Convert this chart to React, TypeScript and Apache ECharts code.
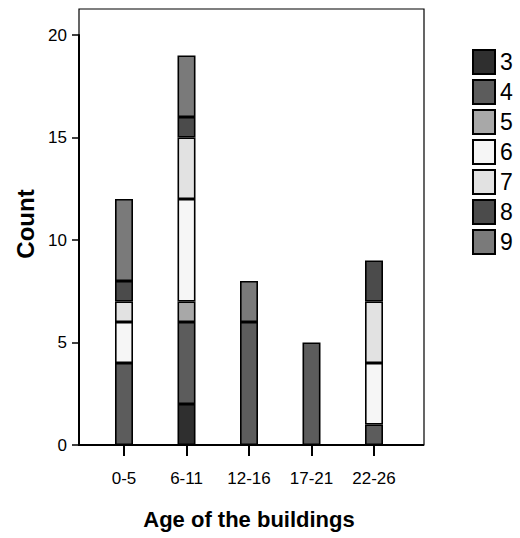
import React, { useEffect, useRef } from "react";
import * as echarts from "echarts";

const categories = ["0-5", "6-11", "12-16", "17-21", "22-26"];
const seriesNames = ["3", "4", "5", "6", "7", "8", "9"];
const s3 = [0, 2, 0, 0, 0];
const s4 = [4, 4, 6, 5, 1];
const s5 = [0, 1, 0, 0, 0];
const s6 = [2, 5, 0, 0, 3];
const s7 = [1, 3, 0, 0, 3];
const s8 = [1, 1, 0, 0, 2];
const s9 = [4, 3, 2, 0, 0];
const seriesValues = [s3, s4, s5, s6, s7, s8, s9];
const colors = ["#2f2f2f", "#5c5c5c", "#a8a8a8", "#f6f6f6", "#e2e2e2", "#4b4b4b", "#7a7a7a"];
const yTicks = [0, 5, 10, 15, 20];

const FONT = "'Liberation Sans', Arial, sans-serif";
const NARROW = "'Liberation Sans Narrow', 'Liberation Sans', Arial, sans-serif";

export default function App() {
  const ref = useRef<HTMLDivElement>(null);
  useEffect(() => {
    if (!ref.current) return;
    const chart = echarts.init(ref.current, null, { renderer: "svg" });
    const option: any = {
      animation: false,
      backgroundColor: "#fff",
      grid: { left: 92.75, right: 114.75, top: 35, bottom: 93, containLabel: false },
      legend: {
        orient: "vertical",
        left: 472,
        top: 49,
        icon: "rect",
        itemWidth: 22,
        itemHeight: 24,
        itemGap: 4,
        padding: 0,
        data: seriesNames,
        textStyle: { fontFamily: NARROW, fontSize: 23, lineHeight: 24, color: "#000" },
        itemStyle: { borderColor: "#000", borderWidth: 2 },
      },
      xAxis: {
        type: "category",
        data: categories,
        name: "Age of the buildings",
        nameLocation: "middle",
        nameGap: 63,
        nameTextStyle: { fontFamily: FONT, fontSize: 22, fontWeight: "bold", color: "#000" },
        axisLine: { show: false },
        axisTick: { show: true, alignWithLabel: true, length: 11, lineStyle: { color: "#000", width: 2 } },
        axisLabel: { fontFamily: FONT, fontSize: 17, color: "#000", margin: 25 },
        splitLine: { show: false },
      },
      yAxis: {
        type: "value",
        min: 0,
        max: 20,
        interval: 5,
        offset: 13.75,
        axisLine: { show: true, lineStyle: { color: "#000", width: 2 } },
        axisTick: { show: true, length: 7, lineStyle: { color: "#000", width: 1.5 } },
        axisLabel: {
          fontFamily: FONT,
          fontSize: 17,
          color: "#000",
          margin: 12,
          formatter: (v: number) => (yTicks.includes(v) ? String(v) : ""),
        },
        splitLine: { show: false },
      },
      graphic: [
        {
          type: "rect",
          shape: { x: 79, y: 9, width: 345, height: 436 },
          style: { fill: "none", stroke: "#000", lineWidth: 1.2 },
          silent: true,
        },
        {
          type: "line",
          shape: { x1: 78, y1: 445, x2: 424, y2: 445 },
          style: { stroke: "#000", lineWidth: 2.2 },
          silent: true,
        },
        {
          type: "text",
          x: 25,
          y: 224,
          rotation: Math.PI / 2,
          style: {
            text: "Count",
            fontFamily: FONT,
            fontSize: 24,
            fontWeight: "bold",
            fill: "#000",
            align: "center",
            verticalAlign: "middle",
          },
        },
      ],
      series: seriesNames.map((name, i) => ({
        name,
        type: "bar",
        stack: "total",
        barWidth: 18,
        data: seriesValues[i].map((v) => (v === 0 ? null : v)),
        itemStyle: { color: colors[i], borderColor: "#000", borderWidth: 1.6 },
      })),
    };
    chart.setOption(option);
    return () => chart.dispose();
  }, []);
  return <div ref={ref} style={{ position: "absolute", left: 0, top: 0, width: 520, height: 538 }} />;
}
